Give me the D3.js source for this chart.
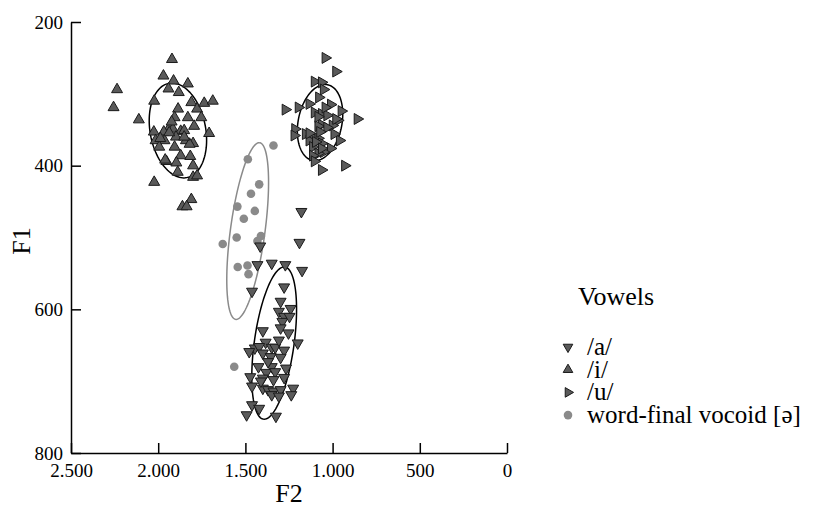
<!DOCTYPE html>
<html>
<head>
<meta charset="utf-8">
<script src="https://cdn.jsdelivr.net/npm/d3@7"></script>
<style>
  body { margin: 0; background: #fff; }
  svg text { font-family: "Liberation Serif", "Times New Roman", serif !important; }
</style>
</head>
<body>
<div id="chart"></div>
<script>
// F2 / F1 values (Hz)
const f2Ticks = [2500, 2000, 1500, 1000, 500, 0];
const f1Ticks = [200, 400, 600, 800];

const vowelI = [
  [1921,252],[1970,275],[1912,282],[1830,286],[1941,293],[1882,298],[2236,294],[2256,319],
  [2111,336],[2023,310],[1810,312],[1886,321],[1777,321],[1736,313],[1687,310],[1830,333],
  [1753,333],[1794,345],[1708,355],[1906,333],[1933,346],[1968,353],[1916,349],[1871,352],
  [1851,351],[2025,353],[2015,365],[1964,365],[1898,360],[1841,365],[1800,369],[1820,370],
  [1994,374],[1906,374],[1871,386],[1816,387],[1953,394],[1896,396],[1800,400],[1888,409],
  [1800,416],[1777,414],[2023,423],[1810,447],[1861,457],[1837,457],[1988,362],[1937,354],
  [1923,339],[1851,360],[1960,392]
];

const vowelU = [
  [1042,250],[981,269],[1104,283],[1063,284],[1052,294],[1079,305],[1011,315],[950,324],
  [858,335],[1134,314],[1196,319],[1271,322],[1104,326],[1063,328],[1032,330],[970,337],
  [1063,343],[1083,345],[1001,344],[1032,347],[1216,349],[1220,358],[1155,356],[1114,360],
  [1083,362],[1134,365],[1063,369],[1114,374],[960,365],[1011,376],[1052,381],[1083,383],
  [1114,386],[1104,394],[1063,406],[930,400],[1073,353],[1134,355],[991,356],[1097,367],
  [1083,332],[981,335],[1042,319],[1063,376]
];

const vowelA = [
  [1179,464],[1190,507],[1415,512],[1431,538],[1349,536],[1271,538],[1175,546],[1462,575],
  [1278,569],[1298,589],[1241,599],[1308,603],[1278,610],[1288,617],[1247,610],[1298,626],
  [1253,633],[1400,630],[1200,647],[1384,646],[1349,653],[1446,654],[1478,659],[1421,652],
  [1329,653],[1278,657],[1400,661],[1355,666],[1298,667],[1425,680],[1349,680],[1267,682],
  [1380,688],[1329,687],[1472,694],[1400,696],[1339,698],[1278,695],[1462,707],[1400,710],
  [1370,712],[1339,714],[1298,712],[1226,710],[1237,719],[1349,719],[1308,721],[1462,733],
  [1421,738],[1493,747],[1325,749],[1411,700],[1308,643],[1370,673]
];

const schwa = [
  [1339,372],[1486,391],[1421,426],[1468,439],[1546,457],[1446,463],[1509,474],[1550,500],
  [1630,509],[1431,505],[1411,498],[1544,541],[1488,539],[1482,551],[1564,680]
];

// ellipses: centre [F2,F1], conjugate half-axes p and q (Hz)
const ellipseNames = ["a", "i", "u", "schwa"];
const ellipseCentres = [[1335,647],[1887,351],[1072,340],[1487,491]];
const ellipseP = [[-57,-106],[34,-66],[-29,-53],[-66,-123]];
const ellipseQ = [[115,0],[161,0],[127,0],[100,0]];

const legendLabels = ["/a/", "/i/", "/u/", "word-final vocoid [ə]"];

const dims = {
  width: 823,
  height: 508,
  margin: { top: 22, left: 71 },
  plotW: 436,
  plotH: 431
};

const triFill = "#5a5a5a";
const triStroke = "#1a1a1a";
const grey = "#8a8a8a";

const svg = d3.select("#chart")
  .append("svg")
  .attr("width", dims.width)
  .attr("height", dims.height);

const xScale = d3.scaleLinear()
  .domain([2500, 0])
  .range([dims.margin.left, dims.margin.left + dims.plotW]);

const yScale = d3.scaleLinear()
  .domain([200, 800])
  .range([dims.margin.top, dims.margin.top + dims.plotH]);

const locale = d3.formatLocale({ decimal: ",", thousands: ".", grouping: [3], currency: ["", ""] });
const fmt = locale.format(",d");

// axes, ticks pointing into the plot
const xAxis = svg.append("g")
  .attr("transform", `translate(0,${dims.margin.top + dims.plotH})`)
  .call(d3.axisBottom(xScale).tickValues(f2Ticks).tickFormat(fmt).tickSizeInner(-10).tickSizeOuter(0).tickPadding(11));

const yAxis = svg.append("g")
  .attr("transform", `translate(${dims.margin.left},0)`)
  .call(d3.axisLeft(yScale).tickValues(f1Ticks).tickSizeInner(-10).tickSizeOuter(0).tickPadding(8));

[xAxis, yAxis].forEach(g => {
  g.attr("font-family", null);
  g.select(".domain").attr("stroke", "#000").attr("stroke-width", 1.5);
  g.selectAll(".tick line").attr("stroke", "#000").attr("stroke-width", 1.5);
  g.selectAll("text").attr("fill", "#000").style("font-size", "19px");
});

svg.append("text")
  .attr("x", xScale(1250))
  .attr("y", 502)
  .attr("text-anchor", "middle")
  .style("font-size", "26px")
  .text("F2");

svg.append("text")
  .attr("transform", `translate(30,241) rotate(-90)`)
  .attr("text-anchor", "middle")
  .style("font-size", "26px")
  .text("F1");

// ellipses
const angles = d3.range(0, 361, 3).map(a => a * Math.PI / 180);
const line = d3.line().x(d => xScale(d[0])).y(d => yScale(d[1]));

ellipseNames.forEach((name, i) => {
  const c = ellipseCentres[i], p = ellipseP[i], q = ellipseQ[i];
  const pts = angles.map(t => [
    c[0] + Math.cos(t) * p[0] + Math.sin(t) * q[0],
    c[1] + Math.cos(t) * p[1] + Math.sin(t) * q[1]
  ]);
  svg.append("path")
    .attr("d", line(pts))
    .attr("fill", "none")
    .attr("stroke", name === "schwa" ? grey : "#000")
    .attr("stroke-width", 1.5);
});

// points
svg.append("g").selectAll("circle")
  .data(schwa)
  .enter()
  .append("circle")
  .attr("cx", d => xScale(d[0]))
  .attr("cy", d => yScale(d[1]))
  .attr("r", 4.3)
  .attr("fill", grey);

const tri = d3.symbol().type(d3.symbolTriangle).size(52);

const groups = [
  { data: vowelA, rot: 180 },
  { data: vowelI, rot: 0 },
  { data: vowelU, rot: 90 }
];

groups.forEach(g => {
  svg.append("g").selectAll("path")
    .data(g.data)
    .enter()
    .append("path")
    .attr("d", tri)
    .attr("transform", d => `translate(${xScale(d[0])},${yScale(d[1])}) rotate(${g.rot})`)
    .attr("fill", triFill)
    .attr("stroke", triStroke)
    .attr("stroke-width", 1);
});

// legend
const legend = svg.append("g").attr("transform", "translate(568,0)");

legend.append("text")
  .attr("x", 10)
  .attr("y", 305)
  .style("font-size", "26px")
  .text("Vowels");

const legendRot = [180, 0, 90];
legendLabels.forEach((label, i) => {
  const yy = 347 + i * 22.7;
  if (i < 3) {
    legend.append("path")
      .attr("d", d3.symbol().type(d3.symbolTriangle).size(40))
      .attr("transform", `translate(0,${yy}) rotate(${legendRot[i]})`)
      .attr("fill", triFill)
      .attr("stroke", triStroke)
      .attr("stroke-width", 1);
  } else {
    legend.append("circle")
      .attr("cx", 0)
      .attr("cy", yy)
      .attr("r", 4.3)
      .attr("fill", grey);
  }
  legend.append("text")
    .attr("x", 19)
    .attr("y", yy)
    .attr("dy", "0.32em")
    .style("font-size", "25px")
    .text(label);
});

svg.selectAll("text").attr("font-family", "Liberation Serif");
</script>
</body>
</html>
